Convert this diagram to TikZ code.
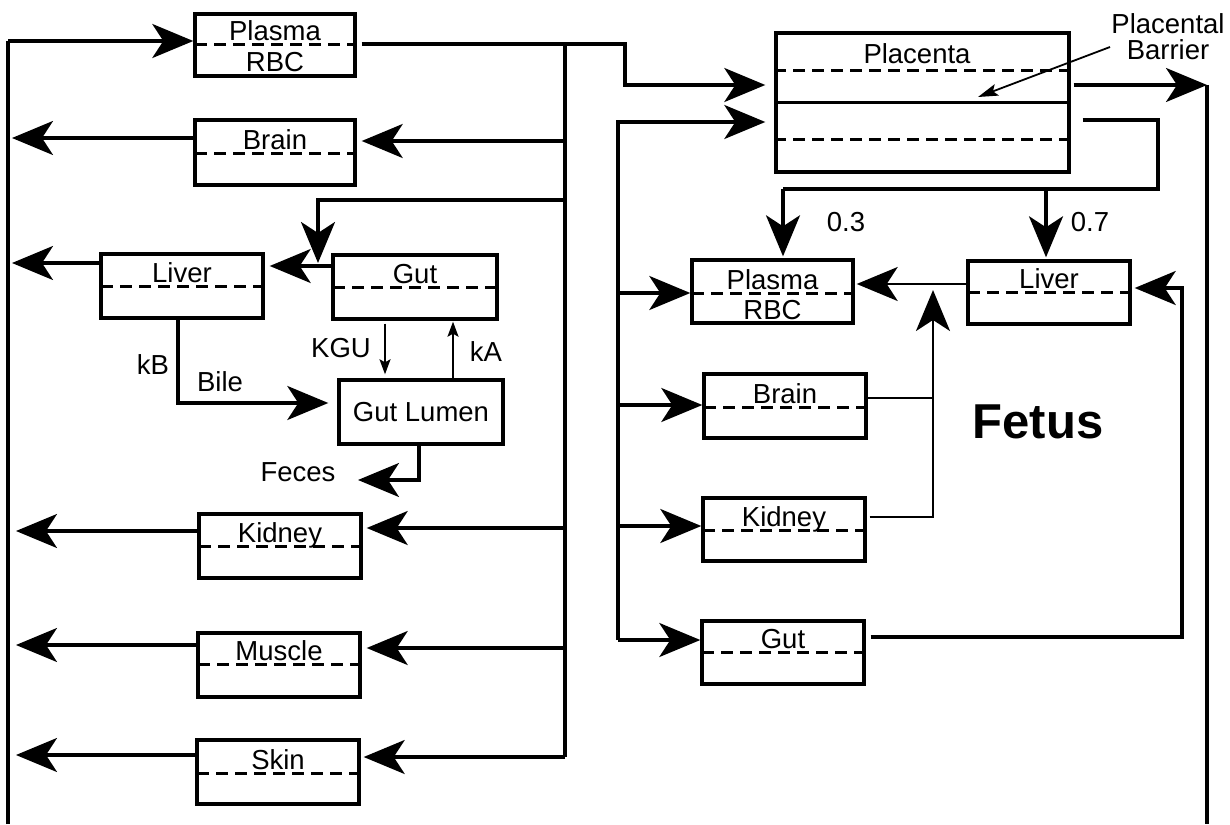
\documentclass[tikz,border=0pt]{standalone}
\usepackage{fontspec}
\setmainfont{Liberation Sans}
\usetikzlibrary{arrows.meta}
\newcommand{\compbox}[7]{%
  \node[box, minimum width={#4-#2}, minimum height={#5-#3}] (#1) at ({(#2+#4)/2},{(#3+#5)/2}) {};
  \draw[sep] (#2,#6) -- (#4,#6);
  \node[lbl, anchor=base] (#1t) at ({(#2+#4)/2},{#6-4}) {#7};
}
\begin{document}
\begin{tikzpicture}[x=1pt,y=-1pt,
  box/.style={draw, line width=3.4pt, inner sep=0pt},
  sep/.style={line width=3pt, dash pattern=on 12pt off 7pt},
  wire/.style={line width=3.2pt},
  thinwire/.style={line width=2.5pt},
  big/.style={-{Stealth[length=41pt,width=34pt,inset=11pt]}},
  small/.style={line width=1.8pt, -{Stealth[length=15pt,width=11pt,inset=3pt]}},
  lbl/.style={font=\fontsize{27.5}{26}\selectfont, inner sep=0pt},
]
\useasboundingbox (0,0) rectangle (1230,824);

% ---------- maternal compartments ----------
\compbox{plasmaL}{195}{14}{355}{76}{45}{Plasma}
\node[lbl,anchor=base] (plasmaLr) at (275,72) {RBC};
\compbox{brainL}{195}{120}{355}{185}{153}{Brain}
\compbox{liverL}{101}{254}{263}{318}{286}{Liver}
\compbox{gutL}{333}{255}{497}{319}{287}{Gut}
\node[box,lbl,minimum width=164pt,minimum height=64pt] (lumen) at (421,412) {Gut Lumen};
\compbox{kidneyL}{199}{514}{361}{578}{546}{Kidney}
\compbox{muscleL}{198}{633}{360}{697}{664}{Muscle}
\compbox{skinL}{197}{740}{359}{804}{773}{Skin}

% ---------- placenta ----------
\node[box, minimum width=293pt, minimum height=139pt] (placenta) at (922.5,102.5) {};
\draw[wire] (placenta.west) -- (placenta.east);
\coordinate (pd1) at (0,71);
\coordinate (pd2) at (0,139);
\draw[sep] (placenta.west |- pd1) -- (placenta.east |- pd1);
\draw[sep] (placenta.west |- pd2) -- (placenta.east |- pd2);
\node[lbl,anchor=base] (placentaT) at (917,64) {Placenta};

% ---------- fetal compartments ----------
\compbox{plasmaF}{692}{260}{853}{323}{293}{Plasma}
\node[lbl,anchor=base] (plasmaFr) at (772.5,319) {RBC};
\compbox{liverF}{968}{261}{1130}{324}{292}{Liver}
\compbox{brainF}{704}{374}{866}{438}{407}{Brain}
\compbox{kidneyF}{703}{498}{865}{561}{530}{Kidney}
\compbox{gutF}{702}{621}{864}{684}{652}{Gut}

% ---------- maternal connectors ----------
\coordinate (retBot) at (8,824);
\coordinate (retTop) at (8,41);
\draw[wire] (retBot) -- (retTop);
\draw[wire,big] (retTop) -- (plasmaL.west |- retTop);

\coordinate (dTop) at (565,44);
\coordinate (pOut1) at (625,44);
\coordinate (pOut2) at (625,85);
\draw[wire,big,shorten <=5pt,shorten >=9pt] (plasmaL.east |- dTop) -- (pOut1) -- (pOut2) -- (placenta.west |- pOut2);

\coordinate (dBot) at (565,757);
\draw[wire] (dTop) -- (dBot);
\draw[wire,big,shorten >=3pt] (dBot) -- (skinL.east |- dBot);
\coordinate (dBr) at (565,141);
\draw[wire,big,shorten >=5pt] (dBr) -- (brainL.east |- dBr);
\coordinate (dKi) at (565,528);
\draw[wire,big,shorten >=4pt] (dKi) -- (kidneyL.east |- dKi);
\coordinate (dMu) at (565,648);
\draw[wire,big,shorten >=5pt] (dMu) -- (muscleL.east |- dMu);
\coordinate (dLv) at (565,200);
\coordinate (lvC) at (318,200);
\coordinate (glY) at (318,266);
\draw[wire,big,shorten >=3pt] (dLv) -- (lvC) -- (glY);
\draw[wire,big,shorten >=5pt] (gutL.west |- glY) -- (liverL.east |- glY);

\coordinate (oBr) at (12,138);
\draw[wire,big] (brainL.west |- oBr) -- (oBr);
\coordinate (oLv) at (12,263);
\draw[wire,big] (liverL.west |- oLv) -- (oLv);
\coordinate (oKi) at (16,531);
\draw[wire,big] (kidneyL.west |- oKi) -- (oKi);
\coordinate (oMu) at (16,645);
\draw[wire,big] (muscleL.west |- oMu) -- (oMu);
\coordinate (oSk) at (16,755);
\draw[wire,big] (skinL.west |- oSk) -- (oSk);

\coordinate (kgu) at (385,0);
\draw[small,shorten <=3pt,shorten >=4pt] (kgu |- gutL.south) -- (kgu |- lumen.north);
\coordinate (ka) at (453,0);
\draw[small,shorten >=1pt] (ka |- lumen.north) -- (ka |- gutL.south);

\coordinate (bileC) at (178,403);
\draw[wire,big,shorten >=9pt] (bileC |- liverL.south) -- (bileC) -- (lumen.west |- bileC);
\coordinate (fecC) at (419,480);
\coordinate (fecE) at (358,480);
\draw[wire,big] (fecC |- lumen.south) -- (fecC) -- (fecE);

\node[lbl] (kgulab) at (341,348) {KGU};
\node[lbl] (kalab) at (486,352) {kA};
\node[lbl] (kblab) at (153,365) {kB};
\node[lbl] (bilelab) at (220,382) {Bile};
\node[lbl] (feceslab) at (298,472) {Feces};

% ---------- placenta / fetal connectors ----------
\coordinate (rOut) at (1207,85);
\coordinate (rBot) at (1207,824);
\draw[wire,big,shorten <=3pt] (placenta.east |- rOut) -- (rOut);
\draw[wire] (rOut) -- (rBot);

\coordinate (plo1) at (1158,120);
\coordinate (split) at (1158,189);
\coordinate (sL) at (783,189);
\coordinate (sR) at (1046,189);
\draw[wire,shorten <=12pt] (placenta.east |- plo1) -- (plo1) -- (split) -- (sL);
\draw[wire,big,shorten >=2pt] (sL) -- (sL |- plasmaF.north);
\draw[wire,big,shorten >=2pt] (sR) -- (sR |- liverF.north);
\node[lbl] (r03) at (846,222) {0.3};
\node[lbl] (r07) at (1090,222) {0.7};

\coordinate (fTop) at (618,122);
\coordinate (fBot) at (618,640);
\draw[wire,big,shorten >=9pt] (fBot) -- (fTop) -- (placenta.west |- fTop);
\draw[wire,big] (fBot) -- (gutF.west |- fBot);
\coordinate (fP) at (618,293);
\draw[wire,big] (fP) -- (plasmaF.west |- fP);
\coordinate (fB) at (618,405);
\draw[wire,big] (fB) -- (brainF.west |- fB);
\coordinate (fK) at (618,526);
\draw[wire,big] (fK) -- (kidneyF.west |- fK);

\coordinate (lpY) at (0,284);
\draw[thinwire,big,shorten >=2pt] (liverF.west |- lpY) -- (plasmaF.east |- lpY);
\coordinate (bo) at (933,398);
\draw[thinwire] (brainF.east |- bo) -- (bo);
\coordinate (upB) at (933,517);
\coordinate (upT) at (933,290);
\draw[thinwire,big,shorten <=3pt] (kidneyF.east |- upB) -- (upB) -- (upT);
\coordinate (gr1) at (1182,637);
\coordinate (gr2) at (1182,288);
\draw[wire,big,shorten <=5pt,shorten >=3pt] (gutF.east |- gr1) -- (gr1) -- (gr2) -- (liverF.east |- gr2);

\node[lbl,align=center] (pb) at (1168,37) {Placental\\Barrier};
\coordinate (pbS) at (1110,47);
\coordinate (pbT) at (978,97);
\draw[line width=1.8pt,-{Stealth[length=20pt,width=12pt,inset=4pt]}] (pbS) -- (pbT);

\node[font=\fontsize{49}{50}\selectfont\bfseries] (fetus) at (1038,422) {Fetus};
\end{tikzpicture}
\end{document}
